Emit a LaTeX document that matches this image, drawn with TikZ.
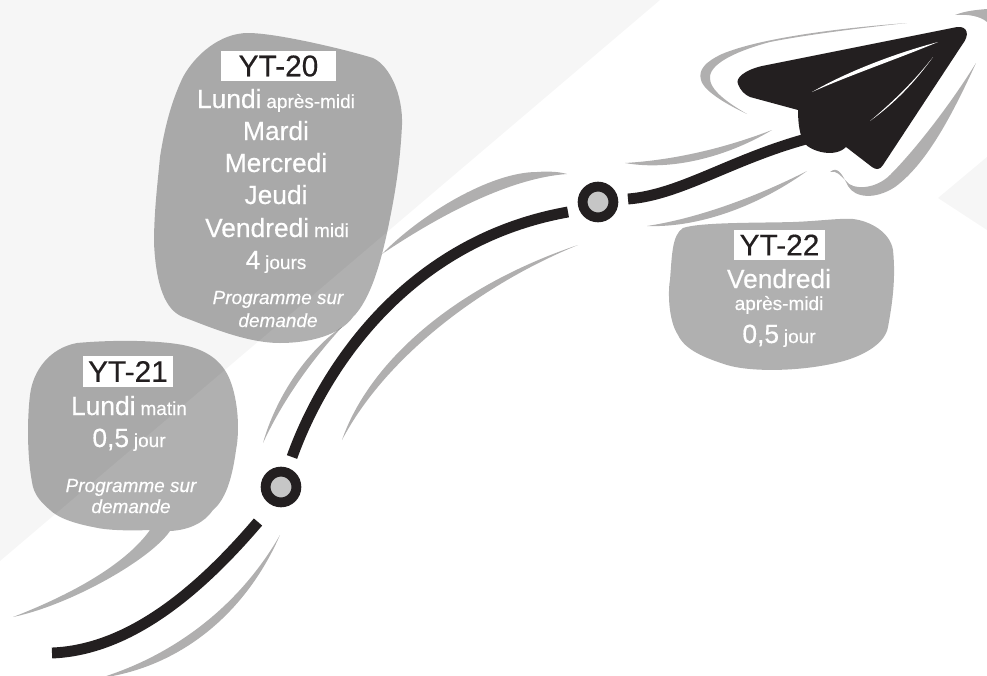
\documentclass[tikz,border=0pt]{standalone}
\usepackage{fontspec}
\setmainfont[FakeBold=0.4]{Liberation Sans}
\usepackage{tikz}
\definecolor{inkdark}{HTML}{231F20}
\definecolor{streakgray}{HTML}{B0AFAF}
\definecolor{backlight}{HTML}{F6F6F6}
\definecolor{holegray}{HTML}{C6C6C6}
\newcommand{\daytxt}[1]{{\fontsize{15}{18}\selectfont #1}}
\newcommand{\smalltxt}[1]{{\fontsize{10.8}{13}\selectfont #1}}
\tikzset{
  bubble/.style = {fill = black, fill opacity = 0.31},
  streak/.style = {fill = streakgray},
  road/.style = {draw = inkdark, line width = 6.2pt},
  stopring/.style = {circle, draw = inkdark, fill = holegray, line width = 5.6pt, minimum size = 17.5pt, inner sep = 0pt},
  tagbox/.style = {fill = white, text = inkdark, font = \fontsize{17}{20}\selectfont, inner sep = 0pt, minimum height = 17.2pt},
  dayline/.style = {text = white, anchor = base, inner sep = 0pt},
  noteline/.style = {text = white, anchor = base, inner sep = 0pt, font = \fontsize{10.8}{13}\selectfont\itshape}
}

\begin{document}
\begin{tikzpicture}[x = 0.02cm, y = -0.02cm]
        \useasboundingbox (0,0) rectangle (987,676);
        % background
        \fill[backlight] (0,0) -- (660,0) -- (0,561) -- cycle;
        \fill[backlight] (938,198) -- (987,157) -- (987,230) -- cycle;

        % streaks
        \fill[streak] (382,254) .. controls (420,215) and (490,172) .. (537,172) .. controls (550,171) and (560,172) .. (567,174) .. controls (510,178) and (440,215) .. (382,254) -- cycle;
        \fill[streak] (263,443) .. controls (275,400) and (305,352) .. (342,327) .. controls (310,362) and (282,402) .. (263,443) -- cycle;
        \fill[streak] (342,440) .. controls (368,365) and (450,288) .. (578,245) .. controls (480,285) and (385,358) .. (342,440) -- cycle;
        \fill[streak] (280,535) .. controls (240,605) and (175,655) .. (100,678) -- (107,677) .. controls (180,665) and (245,615) .. (280,535) -- cycle;
        \fill[streak] (625,163) .. controls (670,171) and (725,158) .. (772,130) .. controls (725,148) and (675,160) .. (625,163) -- cycle;
        \fill[streak] (647,226) .. controls (700,228) and (760,205) .. (807,171) .. controls (760,195) and (700,218) .. (647,226) -- cycle;
        \fill[streak] (907,23) .. controls (840,28) and (760,38) .. (722,54) .. controls (705,62) and (698,70) .. (701,80) .. controls (704,92) and (730,106) .. (747,114) .. controls (730,104) and (708,90) .. (710,76) .. controls (712,62) and (740,50) .. (770,42) .. controls (810,34) and (870,27) .. (907,23) -- cycle;
        \fill[streak] (955,15) .. controls (965,11) and (975,10) .. (987,9) -- (987,22) .. controls (980,16) and (968,14) .. (955,15) -- cycle;
        \fill[streak] (976,63) .. controls (950,120) and (925,165) .. (895,187) .. controls (875,200) and (855,198) .. (848,186) .. controls (843,176) and (838,165) .. (830,172) .. controls (836,170) and (840,175) .. (846,181) .. controls (852,190) and (875,190) .. (890,175) .. controls (915,150) and (950,105) .. (976,63) -- cycle;

        % bubbles
        \fill[bubble] (248,33) .. controls (275,33) and (340,48) .. (373,58) .. controls (390,66) and (403,95) .. (402,125) .. controls (400,165) and (395,195) .. (387,233) .. controls (380,265) and (370,300) .. (353,317) .. controls (340,335) and (310,343) .. (280,343) .. controls (245,343) and (205,325) .. (183,317) .. controls (165,310) and (156,285) .. (154,243) .. controls (154,210) and (158,180) .. (160,157) .. controls (165,125) and (172,100) .. (183,77) .. controls (195,55) and (220,33) .. (248,33) -- cycle;
        \fill[bubble] (77,343) .. controls (110,340) and (150,340) .. (177,344) .. controls (205,348) and (222,360) .. (230,380) .. controls (238,400) and (240,430) .. (236,450) .. controls (232,480) and (225,500) .. (213,510) .. controls (205,522) and (190,530) .. (170,531) .. controls (150,560) and (70,605) .. (13,617) .. controls (70,595) and (125,565) .. (150,530) .. controls (125,531) and (105,530) .. (93,527) .. controls (72,523) and (57,517) .. (50,510) .. controls (42,503) and (36,497) .. (33,487) .. controls (27,460) and (27,420) .. (30,395) .. controls (33,370) and (50,348) .. (77,343) -- cycle;
        \fill[bubble] (683,228) .. controls (700,222) and (760,223) .. (793,222) .. controls (820,221) and (840,218) .. (853,219) .. controls (870,221) and (890,232) .. (893,250) .. controls (896,280) and (892,305) .. (888,327) .. controls (885,345) and (860,357) .. (840,362) .. controls (800,372) and (750,372) .. (727,365) .. controls (705,358) and (685,350) .. (678,335) .. controls (668,320) and (668,290) .. (670,280) .. controls (672,255) and (672,235) .. (683,228) -- cycle;

        % path of the plane
        \draw[road] (52,653) .. controls (130,650) and (200,590) .. (258,522);
        \draw[road] (292,457) .. controls (325,365) and (410,240) .. (568,212);
        \draw[road] (628,199) .. controls (680,195) and (730,160) .. (806,139);
        \node[stopring] (stopa) at (281,487) {};
        \node[stopring] (stopb) at (598,202) {};

        % plane
        \fill[inkdark] (957,27) -- (762,66) .. controls (745,70) and (735,78) .. (738,84) .. controls (740,90) and (745,95) .. (750,97) -- (798,110) .. controls (798,125) and (800,135) .. (804,143) .. controls (812,152) and (835,158) .. (846,147) -- (872,167) .. controls (876,170) and (880,170) .. (883,165) -- (962,45) .. controls (970,35) and (968,26) .. (957,27) -- cycle;
        \fill[white] (812,92) .. controls (850,70) and (900,52) .. (938,42) .. controls (900,58) and (850,75) .. (812,92) -- cycle;
        \fill[white] (870,121) .. controls (895,100) and (915,80) .. (933,57) .. controls (915,82) and (895,103) .. (870,121) -- cycle;

        % YT-20
        \node[tagbox, minimum width = 65.2pt] (tagtwenty) at (278.5,66) {YT-20\hspace{0.25cm}};
        \node[dayline] (lundi) at (276,108) {\daytxt{Lundi} \smalltxt{après-midi}};
        \node[dayline] (mardi) at (276,140) {\daytxt{Mardi}};
        \node[dayline] (mercredi) at (276,172) {\daytxt{Mercredi}};
        \node[dayline] (jeudi) at (276,204) {\daytxt{Jeudi}};
        \node[dayline] (vendredi) at (277,237) {\daytxt{Vendredi} \smalltxt{midi}};
        \node[dayline] (quatre) at (276,269) {\daytxt{4} \smalltxt{jours}};
        \node[noteline] (progtwenty) at (278,304) {Programme sur};
        \node[noteline] (demtwenty) at (278,327) {demande};

        % YT-21
        \node[tagbox, minimum width = 51pt] (tagone) at (128,371.5) {YT-21};
        \node[dayline] (lundim) at (129,415) {\daytxt{Lundi} \smalltxt{matin}};
        \node[dayline] (demione) at (129,447) {\daytxt{0,5} \smalltxt{jour}};
        \node[noteline] (progone) at (131,492) {Programme sur};
        \node[noteline] (demone) at (131,513) {demande};

        % YT-22
        \node[tagbox, minimum width = 51.6pt] (tagtwo) at (779.5,245) {YT-22};
        \node[dayline] (vendredia) at (779,288) {\daytxt{Vendredi}};
        \node[dayline] (apres) at (779,310) {\smalltxt{après-midi}};
        \node[dayline] (demitwo) at (779,343) {\daytxt{0,5} \smalltxt{jour}};
      \end{tikzpicture}
\end{document}
